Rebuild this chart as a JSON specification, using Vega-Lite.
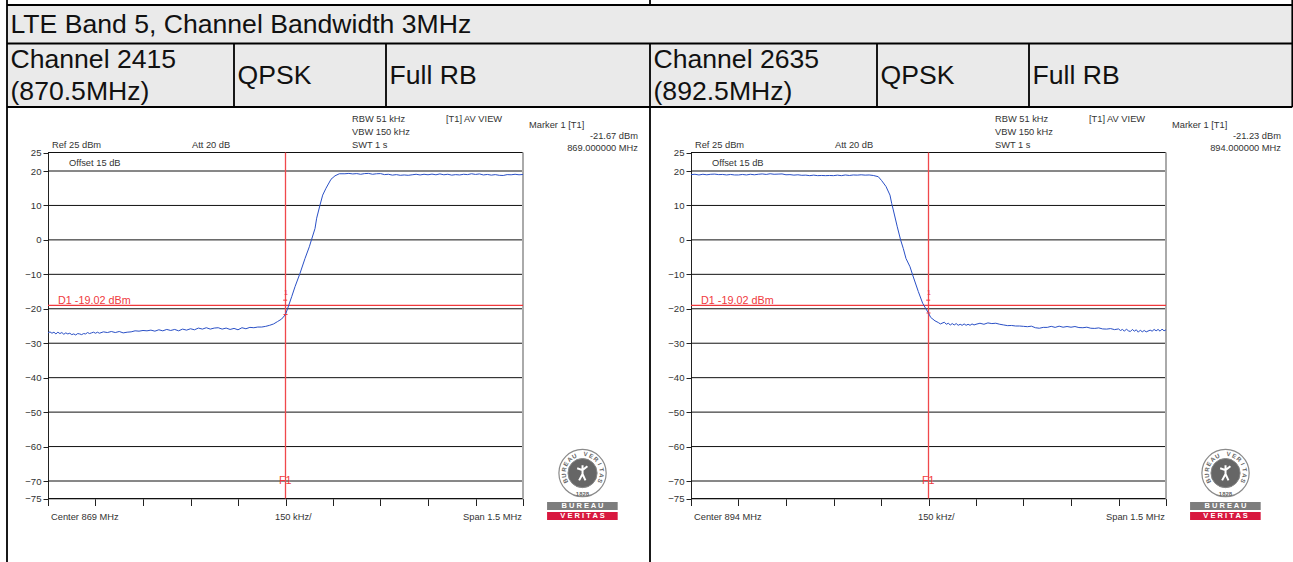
{
"$schema":"https://vega.github.io/schema/vega-lite/v6.json",
"width":1293,"height":562,"padding":0,"autosize":{"type":"none"},
"background":"white",
"config":{"view":{"stroke":null},"text":{"font":"Liberation Sans"},"axis":{"labelFont":"Liberation Sans"}},
"datasets":{
"cells":[
{"t":"LTE Band 5, Channel Bandwidth 3MHz","col":0,"row":0.51},
{"t":"Channel 2415","col":0,"row":1.254},{"t":"(870.5MHz)","col":0,"row":1.77},
{"t":"QPSK","col":1,"row":1.508},{"t":"Full RB","col":2,"row":1.508},
{"t":"Channel 2635","col":3,"row":1.254},{"t":"(892.5MHz)","col":3,"row":1.77},
{"t":"QPSK","col":4,"row":1.508},{"t":"Full RB","col":5,"row":1.508}],
"band":[{"col":0,"col2":6,"row":0,"row2":2}],
"lines":[
{"col":0,"col2":0,"row":-1,"row2":3},{"col":1,"col2":1,"row":1,"row2":2},{"col":2,"col2":2,"row":1,"row2":2},
{"col":3,"col2":3,"row":-1,"row2":0},{"col":3,"col2":3,"row":1,"row2":3},{"col":4,"col2":4,"row":1,"row2":2},
{"col":5,"col2":5,"row":1,"row2":2},{"col":6,"col2":6,"row":-1,"row2":2},
{"col":0,"col2":6,"row":0,"row2":0},{"col":0,"col2":6,"row":1,"row2":1},{"col":0,"col2":6,"row":2,"row2":2}],
"levels1":[{"f":868.25,"f2":869.75,"db":25},{"f":868.25,"f2":869.75,"db":20},{"f":868.25,"f2":869.75,"db":10},{"f":868.25,"f2":869.75,"db":0},{"f":868.25,"f2":869.75,"db":-10},{"f":868.25,"f2":869.75,"db":-20},{"f":868.25,"f2":869.75,"db":-30},{"f":868.25,"f2":869.75,"db":-40},{"f":868.25,"f2":869.75,"db":-50},{"f":868.25,"f2":869.75,"db":-60},{"f":868.25,"f2":869.75,"db":-70},{"f":868.25,"f2":869.75,"db":-75}],
"levels2":[{"f":893.25,"f2":894.75,"db":25},{"f":893.25,"f2":894.75,"db":20},{"f":893.25,"f2":894.75,"db":10},{"f":893.25,"f2":894.75,"db":0},{"f":893.25,"f2":894.75,"db":-10},{"f":893.25,"f2":894.75,"db":-20},{"f":893.25,"f2":894.75,"db":-30},{"f":893.25,"f2":894.75,"db":-40},{"f":893.25,"f2":894.75,"db":-50},{"f":893.25,"f2":894.75,"db":-60},{"f":893.25,"f2":894.75,"db":-70},{"f":893.25,"f2":894.75,"db":-75}],
"notes1":[
{"t":"Ref 25 dBm","f":868.2626,"db":27.03,"k":"l"},{"t":"Att  20 dB","f":868.7047,"db":27.03,"k":"l"},
{"t":"RBW 51 kHz","f":869.21,"db":34.05,"k":"l"},{"t":"VBW 150 kHz","f":869.21,"db":30.54,"k":"l"},{"t":"SWT 1 s","f":869.21,"db":27.03,"k":"l"},
{"t":"[T1] AV VIEW","f":869.5068,"db":34.05,"k":"l"},{"t":"Marker 1 [T1]","f":869.769,"db":32.43,"k":"l"},
{"t":"Offset 15 dB","f":868.3163,"db":22.16,"k":"l"},{"t":"Center 869 MHz","f":868.2595,"db":-80.29,"k":"l"},
{"t":"150 kHz/","f":868.9668,"db":-80.29,"k":"l"},
{"t":"-21.67 dBm","f":870.1131,"db":29.46,"k":"r"},{"t":"869.000000 MHz","f":870.1131,"db":26.22,"k":"r"},{"t":"Span 1.5 MHz","f":869.7468,"db":-80.29,"k":"r"},
{"t":"D1 -19.02 dBm","f":868.2816,"db":-17.83,"k":"d"},{"t":"F1","f":868.9795,"db":-70.1,"k":"d"},{"t":"1","f":868.9955,"db":-15.5,"k":"m"}],
"notes2":[
{"t":"Ref 25 dBm","f":893.2626,"db":27.03,"k":"l"},{"t":"Att  20 dB","f":893.7047,"db":27.03,"k":"l"},
{"t":"RBW 51 kHz","f":894.21,"db":34.05,"k":"l"},{"t":"VBW 150 kHz","f":894.21,"db":30.54,"k":"l"},{"t":"SWT 1 s","f":894.21,"db":27.03,"k":"l"},
{"t":"[T1] AV VIEW","f":894.5068,"db":34.05,"k":"l"},{"t":"Marker 1 [T1]","f":894.769,"db":32.43,"k":"l"},
{"t":"Offset 15 dB","f":893.3163,"db":22.16,"k":"l"},{"t":"Center 894 MHz","f":893.2595,"db":-80.29,"k":"l"},
{"t":"150 kHz/","f":893.9668,"db":-80.29,"k":"l"},
{"t":"-21.23 dBm","f":895.1131,"db":29.46,"k":"r"},{"t":"894.000000 MHz","f":895.1131,"db":26.22,"k":"r"},{"t":"Span 1.5 MHz","f":894.7468,"db":-80.29,"k":"r"},
{"t":"D1 -19.02 dBm","f":893.2816,"db":-17.83,"k":"d"},{"t":"F1","f":893.9795,"db":-70.1,"k":"d"},{"t":"1","f":893.9955,"db":-15.5,"k":"m"}],
"marker1":[{"f":869,"db":-21.67},{"f":868.999,"db":-17.5}],"marker2":[{"f":894,"db":-21.23},{"f":893.999,"db":-17.5}],
"logo1":[{"f":869.938,"db":-67.7}],"logo2":[{"f":894.938,"db":-67.7}],
"ring1":[{"t":"B","f":869.8843,"db":-70.0,"a":-115},{"t":"U","f":869.8793,"db":-68.4,"a":-97},{"t":"R","f":869.8796,"db":-66.7,"a":-80},{"t":"E","f":869.8856,"db":-65.1,"a":-62},{"t":"A","f":869.897,"db":-63.7,"a":-44},{"t":"U","f":869.9118,"db":-62.8,"a":-26},{"t":"V","f":869.9478,"db":-62.2,"a":9},{"t":"E","f":869.9655,"db":-62.8,"a":27},{"t":"R","f":869.9806,"db":-63.7,"a":44},{"t":"I","f":869.9917,"db":-65.1,"a":62},{"t":"T","f":869.9977,"db":-66.7,"a":80},{"t":"A","f":869.998,"db":-68.4,"a":97},{"t":"S","f":869.9929,"db":-70.0,"a":115},{"t":"1828","f":869.938,"db":-73.7,"a":0}],
"ring2":[{"t":"B","f":894.8843,"db":-70.0,"a":-115},{"t":"U","f":894.8793,"db":-68.4,"a":-97},{"t":"R","f":894.8796,"db":-66.7,"a":-80},{"t":"E","f":894.8856,"db":-65.1,"a":-62},{"t":"A","f":894.897,"db":-63.7,"a":-44},{"t":"U","f":894.9118,"db":-62.8,"a":-26},{"t":"V","f":894.9478,"db":-62.2,"a":9},{"t":"E","f":894.9655,"db":-62.8,"a":27},{"t":"R","f":894.9806,"db":-63.7,"a":44},{"t":"I","f":894.9917,"db":-65.1,"a":62},{"t":"T","f":894.9977,"db":-66.7,"a":80},{"t":"A","f":894.998,"db":-68.4,"a":97},{"t":"S","f":894.9929,"db":-70.0,"a":115},{"t":"1828","f":894.938,"db":-73.7,"a":0}],
"bars1":[{"t":"B U R E A U","f":869.826,"f2":870.049,"db":-76,"db2":-78.29,"fm":869.938,"dbm":-77.14},{"t":"V E R I T A S","f":869.826,"f2":870.049,"db":-78.86,"db2":-81.14,"fm":869.938,"dbm":-80}],
"bars2":[{"t":"B U R E A U","f":894.826,"f2":895.049,"db":-76,"db2":-78.29,"fm":894.938,"dbm":-77.14},{"t":"V E R I T A S","f":894.826,"f2":895.049,"db":-78.86,"db2":-81.14,"fm":894.938,"dbm":-80}],
"trace1":[
{"f":868.25,"db":-27.0},{"f":868.2562,"db":-26.7},{"f":868.2625,"db":-27.1},{"f":868.2688,"db":-26.8},{"f":868.275,"db":-27.3},{"f":868.2812,"db":-26.8},{"f":868.2875,"db":-27.2},{"f":868.2938,"db":-26.9},{"f":868.3,"db":-27.4},{"f":868.3062,"db":-27.0},{"f":868.3125,"db":-27.3},{"f":868.3188,"db":-27.1},{"f":868.325,"db":-27.5},{"f":868.3312,"db":-27.3},{"f":868.3375,"db":-27.6},{"f":868.3438,"db":-27.2},{"f":868.35,"db":-27.3},{"f":868.3562,"db":-27.5},{"f":868.3625,"db":-27.2},{"f":868.3688,"db":-27.3},{"f":868.375,"db":-26.9},{"f":868.3812,"db":-27.2},{"f":868.3875,"db":-27.0},{"f":868.3938,"db":-26.8},{"f":868.4,"db":-27.1},{"f":868.4062,"db":-26.8},{"f":868.4125,"db":-27.1},{"f":868.425,"db":-26.7},{"f":868.4375,"db":-26.9},{"f":868.45,"db":-26.6},{"f":868.4625,"db":-26.9},{"f":868.475,"db":-26.6},{"f":868.4875,"db":-27.0},{"f":868.5,"db":-26.8},{"f":868.5125,"db":-26.7},{"f":868.525,"db":-26.4},{"f":868.5375,"db":-26.5},{"f":868.55,"db":-26.3},{"f":868.5625,"db":-26.4},{"f":868.575,"db":-26.2},{"f":868.5875,"db":-26.5},{"f":868.6,"db":-26.1},{"f":868.6125,"db":-26.4},{"f":868.625,"db":-26.0},{"f":868.6375,"db":-26.3},{"f":868.65,"db":-26.0},{"f":868.6625,"db":-26.4},{"f":868.675,"db":-25.9},{"f":868.6875,"db":-26.2},{"f":868.7,"db":-25.8},{"f":868.7125,"db":-26.1},{"f":868.725,"db":-25.6},{"f":868.7375,"db":-25.9},{"f":868.75,"db":-25.5},{"f":868.7625,"db":-25.9},{"f":868.775,"db":-25.6},{"f":868.7875,"db":-25.5},{"f":868.8,"db":-25.9},{"f":868.8125,"db":-25.6},{"f":868.825,"db":-26.0},{"f":868.8375,"db":-25.7},{"f":868.85,"db":-26.1},{"f":868.8625,"db":-25.5},{"f":868.875,"db":-25.8},{"f":868.8875,"db":-25.4},{"f":868.9,"db":-25.5},{"f":868.9125,"db":-25.3},{"f":868.925,"db":-25.3},{"f":868.9375,"db":-25.1},{"f":868.95,"db":-24.8},{"f":868.9625,"db":-24.4},{"f":868.975,"db":-23.7},{"f":868.9875,"db":-23.0},{"f":869.0,"db":-21.67},
{"f":869.0068,"db":-19.9},{"f":869.0195,"db":-16.5},{"f":869.03,"db":-13.6},{"f":869.0458,"db":-9.7},{"f":869.0616,"db":-5.4},{"f":869.0752,"db":-2.0},{"f":869.0826,"db":0.2},{"f":869.0932,"db":3.3},{"f":869.0984,"db":6.3},{"f":869.1089,"db":10.1},{"f":869.1174,"db":13.0},{"f":869.1279,"db":15.0},{"f":869.1437,"db":17.6},{"f":869.1563,"db":18.6},{"f":869.17,"db":19.2},
{"f":869.1875,"db":19.2},{"f":869.2,"db":19.3},{"f":869.2125,"db":19.15},{"f":869.225,"db":19.25},{"f":869.2375,"db":19.05},{"f":869.25,"db":19.25},{"f":869.2625,"db":19.3},{"f":869.275,"db":19.05},{"f":869.2875,"db":19.2},{"f":869.3,"db":19.25},{"f":869.3125,"db":18.95},{"f":869.325,"db":19.05},{"f":869.3375,"db":18.8},{"f":869.35,"db":18.95},{"f":869.3625,"db":18.75},{"f":869.375,"db":18.85},{"f":869.3875,"db":18.75},{"f":869.4,"db":18.9},{"f":869.4125,"db":19.05},{"f":869.425,"db":18.85},{"f":869.4375,"db":19.05},{"f":869.45,"db":18.9},{"f":869.4625,"db":19.1},{"f":869.475,"db":18.9},{"f":869.4875,"db":19.15},{"f":869.5,"db":18.9},{"f":869.5125,"db":19.05},{"f":869.525,"db":18.8},{"f":869.5375,"db":18.95},{"f":869.55,"db":18.85},{"f":869.5625,"db":19.05},{"f":869.575,"db":18.95},{"f":869.5875,"db":19.2},{"f":869.6,"db":19.0},{"f":869.6125,"db":19.15},{"f":869.625,"db":18.85},{"f":869.6375,"db":19.0},{"f":869.65,"db":18.8},{"f":869.6625,"db":18.95},{"f":869.675,"db":18.75},{"f":869.6875,"db":18.7},{"f":869.7,"db":18.95},{"f":869.7125,"db":18.9},{"f":869.725,"db":19.05},{"f":869.7375,"db":18.9},{"f":869.75,"db":19.0}],
"trace2":[
{"f":893.25,"db":18.95},{"f":893.2625,"db":19.05},{"f":893.275,"db":18.85},{"f":893.2875,"db":19.05},{"f":893.3,"db":18.9},{"f":893.3125,"db":19.05},{"f":893.325,"db":19.1},{"f":893.3375,"db":18.95},{"f":893.35,"db":19.0},{"f":893.3625,"db":18.85},{"f":893.375,"db":19.0},{"f":893.3875,"db":18.85},{"f":893.4,"db":18.85},{"f":893.4125,"db":19.0},{"f":893.425,"db":18.85},{"f":893.4375,"db":19.05},{"f":893.45,"db":18.9},{"f":893.4625,"db":19.05},{"f":893.475,"db":19.15},{"f":893.4875,"db":19.0},{"f":893.5,"db":19.2},{"f":893.5125,"db":19.05},{"f":893.525,"db":19.1},{"f":893.5375,"db":19.15},{"f":893.55,"db":18.9},{"f":893.5625,"db":18.95},{"f":893.575,"db":18.8},{"f":893.5875,"db":18.9},{"f":893.6,"db":18.75},{"f":893.6125,"db":18.8},{"f":893.625,"db":18.65},{"f":893.6375,"db":18.8},{"f":893.65,"db":18.65},{"f":893.6625,"db":18.7},{"f":893.675,"db":18.65},{"f":893.6875,"db":18.7},{"f":893.7,"db":18.65},{"f":893.7125,"db":18.8},{"f":893.725,"db":18.65},{"f":893.7375,"db":18.85},{"f":893.75,"db":18.7},{"f":893.7625,"db":18.85},{"f":893.775,"db":18.8},{"f":893.7875,"db":18.9},{"f":893.8,"db":18.8},{"f":893.8125,"db":18.85},
{"f":893.8257,"db":18.7},{"f":893.8414,"db":18.35},{"f":893.8522,"db":17.2},{"f":893.8658,"db":15.5},{"f":893.8784,"db":13.0},{"f":893.8837,"db":10.6},{"f":893.8888,"db":8.7},{"f":893.9014,"db":3.8},{"f":893.912,"db":-0.04},{"f":893.9204,"db":-2.5},{"f":893.9289,"db":-5.4},{"f":893.9416,"db":-7.8},{"f":893.95,"db":-10.2},{"f":893.9678,"db":-15.0},{"f":893.9816,"db":-18.4},{"f":893.9911,"db":-19.9},{"f":894.0,"db":-21.23},{"f":894.0068,"db":-22.5},{"f":894.0205,"db":-23.5},{"f":894.031,"db":-24.0},
{"f":894.0375,"db":-24.4},{"f":894.05,"db":-23.9},{"f":894.0562,"db":-24.5},{"f":894.0625,"db":-24.2},{"f":894.0688,"db":-24.7},{"f":894.075,"db":-24.3},{"f":894.0812,"db":-24.7},{"f":894.0875,"db":-24.3},{"f":894.0938,"db":-24.8},{"f":894.1,"db":-24.5},{"f":894.1062,"db":-24.8},{"f":894.1125,"db":-24.4},{"f":894.1188,"db":-24.8},{"f":894.125,"db":-24.5},{"f":894.1312,"db":-24.8},{"f":894.1375,"db":-24.4},{"f":894.1438,"db":-24.7},{"f":894.15,"db":-24.5},{"f":894.1625,"db":-24.2},{"f":894.175,"db":-24.5},{"f":894.1875,"db":-24.1},{"f":894.2,"db":-24.3},{"f":894.2125,"db":-24.2},{"f":894.225,"db":-24.5},{"f":894.2375,"db":-24.7},{"f":894.25,"db":-24.9},{"f":894.2625,"db":-24.85},{"f":894.275,"db":-25.0},{"f":894.2875,"db":-25.0},{"f":894.3,"db":-25.1},{"f":894.3125,"db":-25.2},{"f":894.325,"db":-25.05},{"f":894.3375,"db":-25.5},{"f":894.35,"db":-25.65},{"f":894.3625,"db":-25.4},{"f":894.375,"db":-25.4},{"f":894.3875,"db":-25.1},{"f":894.4,"db":-25.4},{"f":894.4125,"db":-25.05},{"f":894.425,"db":-25.35},{"f":894.4375,"db":-25.15},{"f":894.45,"db":-25.35},{"f":894.4625,"db":-25.15},{"f":894.475,"db":-25.45},{"f":894.4875,"db":-25.5},{"f":894.5,"db":-25.35},{"f":894.5125,"db":-25.65},{"f":894.525,"db":-25.7},{"f":894.5375,"db":-25.55},{"f":894.55,"db":-25.85},{"f":894.5625,"db":-25.9},{"f":894.575,"db":-25.75},{"f":894.5875,"db":-26.05},{"f":894.6,"db":-25.85},{"f":894.6062,"db":-26.3},{"f":894.6125,"db":-26.0},{"f":894.6188,"db":-26.5},{"f":894.625,"db":-25.9},{"f":894.6312,"db":-26.4},{"f":894.6375,"db":-26.6},{"f":894.6438,"db":-26.0},{"f":894.65,"db":-26.5},{"f":894.6562,"db":-26.1},{"f":894.6625,"db":-26.8},{"f":894.6688,"db":-26.2},{"f":894.675,"db":-26.7},{"f":894.6812,"db":-26.3},{"f":894.6875,"db":-26.7},{"f":894.7,"db":-26.2},{"f":894.7062,"db":-26.5},{"f":894.7125,"db":-26.0},{"f":894.7188,"db":-26.4},{"f":894.725,"db":-26.0},{"f":894.7312,"db":-26.5},{"f":894.7375,"db":-25.9},{"f":894.7438,"db":-26.4},{"f":894.75,"db":-26.1}]
},
"resolve":{"scale":{"x":"independent","y":"independent"},"axis":{"x":"independent","y":"independent"}},
"layer":[
{"encoding":{
"x":{"field":"col","type":"quantitative","axis":null,"scale":{"domain":[0,1,2,3,4,5,6],"range":[7,234,386,650,877,1029,1292.3]}},
"y":{"field":"row","type":"quantitative","axis":null,"scale":{"domain":[-1,0,1,2,3],"range":[0,5,43.5,107,562]}}},
"layer":[
{"data":{"name":"band"},"mark":{"type":"rect","fill":"#eaeaea"},"encoding":{"x2":{"field":"col2"},"y2":{"field":"row2"}}},
{"data":{"name":"lines"},"mark":{"type":"rule","stroke":"#000","strokeWidth":1.8},"encoding":{"x2":{"field":"col2"},"y2":{"field":"row2"}}},
{"data":{"name":"cells"},"mark":{"type":"text","align":"left","baseline":"middle","dx":3.5,"fontSize":26.6,"font":"Liberation Sans","fill":"#111"},"encoding":{"text":{"field":"t"}}}
]},
{"encoding":{
"x":{"field":"f","type":"quantitative","scale":{"domain":[868.25,869.75],"range":[48,523],"nice":false,"zero":false},
"axis":{"orient":"bottom","offset":-63.5,"title":null,"labels":false,"grid":false,"values":[868.25,868.4,868.55,868.7,868.85,869,869.15,869.3,869.45,869.6,869.75],"tickSize":7,"tickColor":"#222","domainColor":"#777"}},
"y":{"field":"db","type":"quantitative","scale":{"domain":[-75,-70,20,25],"range":[498.5,481,171,152.5],"nice":false,"zero":false},
"axis":{"orient":"left","offset":-48,"title":null,"grid":false,"values":[25,20,10,0,-10,-20,-30,-40,-50,-60,-70,-75],"format":"d","tickSize":5,"tickColor":"#222","domainColor":"#222","labelFontSize":9.6,"labelColor":"#333","labelPadding":2}}},
"layer":[
{"data":{"name":"levels1"},"mark":{"type":"rule","stroke":"#111","strokeWidth":1},"encoding":{"x2":{"field":"f2"}}},
{"data":{"values":[{"f":869.75,"db":-75,"db2":25}]},"mark":{"type":"rule","stroke":"#aaa","strokeWidth":2},"encoding":{"y2":{"field":"db2"}}},
{"data":{"values":[{"f":869,"db":-75,"db2":25}]},"mark":{"type":"rule","stroke":"#f0484c","strokeWidth":1.3},"encoding":{"y2":{"field":"db2"}}},
{"data":{"values":[{"f":868.25,"f2":869.75,"db":-19.02}]},"mark":{"type":"rule","stroke":"#f0383c","strokeWidth":1.3},"encoding":{"x2":{"field":"f2"}}},
{"data":{"name":"trace1"},"mark":{"type":"line","stroke":"#2a50c6","strokeWidth":1}},
{"data":{"name":"marker1"},"mark":{"type":"point","shape":"stroke","size":16,"stroke":"#f0383c","strokeWidth":1,"opacity":1}},
{"data":{"name":"notes1"},"transform":[{"filter":"datum.k==='l'"}],"mark":{"type":"text","align":"left","baseline":"middle","fontSize":9.3,"fill":"#333","font":"Liberation Sans"},"encoding":{"text":{"field":"t"}}},
{"data":{"name":"notes1"},"transform":[{"filter":"datum.k==='r'"}],"mark":{"type":"text","align":"right","baseline":"middle","fontSize":9.3,"fill":"#333","font":"Liberation Sans"},"encoding":{"text":{"field":"t"}}},
{"data":{"name":"notes1"},"transform":[{"filter":"datum.k==='d'"}],"mark":{"type":"text","align":"left","baseline":"middle","fontSize":10.8,"fill":"#f03a3e","font":"Liberation Sans"},"encoding":{"text":{"field":"t"}}},
{"data":{"name":"notes1"},"transform":[{"filter":"datum.k==='m'"}],"mark":{"type":"text","align":"left","baseline":"middle","fontSize":7,"fill":"#f03a3e","font":"Liberation Sans"},"encoding":{"text":{"field":"t"}}},
{"data":{"name":"logo1"},"mark":{"type":"point","shape":"circle","size":2235,"fill":"#fff","fillOpacity":1,"stroke":"#8a8a8a","strokeWidth":1.2,"opacity":1}},
{"data":{"name":"logo1"},"mark":{"type":"point","shape":"circle","size":850,"fill":"#666","fillOpacity":1,"stroke":"#888","strokeWidth":1,"opacity":1}},
{"data":{"name":"logo1"},"mark":{"type":"point","shape":"M0,-0.8L0,0.1M-0.35,0.75L0,0.1L0.3,0.75M-0.55,-0.5L0,-0.3L0.5,-0.7","size":380,"fill":"transparent","stroke":"#fff","strokeWidth":2,"opacity":1}},
{"data":{"name":"ring1"},"mark":{"type":"text","align":"center","baseline":"middle","fontSize":6,"fontWeight":"bold","fill":"#666","font":"Liberation Sans"},"encoding":{"text":{"field":"t"},"angle":{"field":"a","type":"quantitative","scale":null}}},
{"data":{"name":"bars1"},"mark":{"type":"rect"},"encoding":{"x2":{"field":"f2"},"y2":{"field":"db2"},"color":{"field":"t","type":"nominal","legend":null,"scale":{"domain":["B U R E A U","V E R I T A S"],"range":["#7d7d7d","#d8183f"]}}}},
{"data":{"name":"bars1"},"mark":{"type":"text","align":"center","baseline":"middle","fontSize":7.5,"fontWeight":"bold","fill":"#fff","font":"Liberation Sans"},"encoding":{"x":{"field":"fm","type":"quantitative"},"y":{"field":"dbm","type":"quantitative"},"text":{"field":"t"}}}
]},
{"encoding":{
"x":{"field":"f","type":"quantitative","scale":{"domain":[893.25,894.75],"range":[691,1166],"nice":false,"zero":false},
"axis":{"orient":"bottom","offset":-63.5,"title":null,"labels":false,"grid":false,"values":[893.25,893.4,893.55,893.7,893.85,894,894.15,894.3,894.45,894.6,894.75],"tickSize":7,"tickColor":"#222","domainColor":"#777"}},
"y":{"field":"db","type":"quantitative","scale":{"domain":[-75,-70,20,25],"range":[498.5,481,171,152.5],"nice":false,"zero":false},
"axis":{"orient":"left","offset":-691,"title":null,"grid":false,"values":[25,20,10,0,-10,-20,-30,-40,-50,-60,-70,-75],"format":"d","tickSize":5,"tickColor":"#222","domainColor":"#222","labelFontSize":9.6,"labelColor":"#333","labelPadding":2}}},
"layer":[
{"data":{"name":"levels2"},"mark":{"type":"rule","stroke":"#111","strokeWidth":1},"encoding":{"x2":{"field":"f2"}}},
{"data":{"values":[{"f":894.75,"db":-75,"db2":25}]},"mark":{"type":"rule","stroke":"#aaa","strokeWidth":2},"encoding":{"y2":{"field":"db2"}}},
{"data":{"values":[{"f":894,"db":-75,"db2":25}]},"mark":{"type":"rule","stroke":"#f0484c","strokeWidth":1.3},"encoding":{"y2":{"field":"db2"}}},
{"data":{"values":[{"f":893.25,"f2":894.75,"db":-19.02}]},"mark":{"type":"rule","stroke":"#f0383c","strokeWidth":1.3},"encoding":{"x2":{"field":"f2"}}},
{"data":{"name":"trace2"},"mark":{"type":"line","stroke":"#2a50c6","strokeWidth":1}},
{"data":{"name":"marker2"},"mark":{"type":"point","shape":"stroke","size":16,"stroke":"#f0383c","strokeWidth":1,"opacity":1}},
{"data":{"name":"notes2"},"transform":[{"filter":"datum.k==='l'"}],"mark":{"type":"text","align":"left","baseline":"middle","fontSize":9.3,"fill":"#333","font":"Liberation Sans"},"encoding":{"text":{"field":"t"}}},
{"data":{"name":"notes2"},"transform":[{"filter":"datum.k==='r'"}],"mark":{"type":"text","align":"right","baseline":"middle","fontSize":9.3,"fill":"#333","font":"Liberation Sans"},"encoding":{"text":{"field":"t"}}},
{"data":{"name":"notes2"},"transform":[{"filter":"datum.k==='d'"}],"mark":{"type":"text","align":"left","baseline":"middle","fontSize":10.8,"fill":"#f03a3e","font":"Liberation Sans"},"encoding":{"text":{"field":"t"}}},
{"data":{"name":"notes2"},"transform":[{"filter":"datum.k==='m'"}],"mark":{"type":"text","align":"left","baseline":"middle","fontSize":7,"fill":"#f03a3e","font":"Liberation Sans"},"encoding":{"text":{"field":"t"}}},
{"data":{"name":"logo2"},"mark":{"type":"point","shape":"circle","size":2235,"fill":"#fff","fillOpacity":1,"stroke":"#8a8a8a","strokeWidth":1.2,"opacity":1}},
{"data":{"name":"logo2"},"mark":{"type":"point","shape":"circle","size":850,"fill":"#666","fillOpacity":1,"stroke":"#888","strokeWidth":1,"opacity":1}},
{"data":{"name":"logo2"},"mark":{"type":"point","shape":"M0,-0.8L0,0.1M-0.35,0.75L0,0.1L0.3,0.75M-0.55,-0.5L0,-0.3L0.5,-0.7","size":380,"fill":"transparent","stroke":"#fff","strokeWidth":2,"opacity":1}},
{"data":{"name":"ring2"},"mark":{"type":"text","align":"center","baseline":"middle","fontSize":6,"fontWeight":"bold","fill":"#666","font":"Liberation Sans"},"encoding":{"text":{"field":"t"},"angle":{"field":"a","type":"quantitative","scale":null}}},
{"data":{"name":"bars2"},"mark":{"type":"rect"},"encoding":{"x2":{"field":"f2"},"y2":{"field":"db2"},"color":{"field":"t","type":"nominal","legend":null,"scale":{"domain":["B U R E A U","V E R I T A S"],"range":["#7d7d7d","#d8183f"]}}}},
{"data":{"name":"bars2"},"mark":{"type":"text","align":"center","baseline":"middle","fontSize":7.5,"fontWeight":"bold","fill":"#fff","font":"Liberation Sans"},"encoding":{"x":{"field":"fm","type":"quantitative"},"y":{"field":"dbm","type":"quantitative"},"text":{"field":"t"}}}
]}
]
}
